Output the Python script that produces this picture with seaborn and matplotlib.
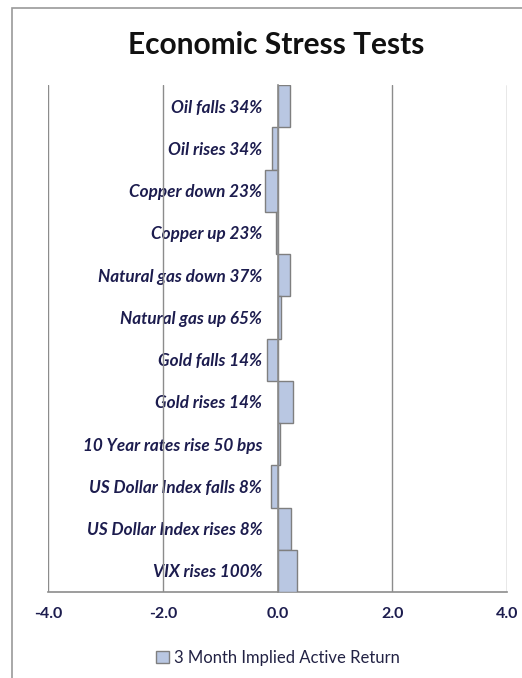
import matplotlib
matplotlib.use("Agg")
import matplotlib.pyplot as plt
import seaborn as sns
import pandas as pd
import numpy as np
from matplotlib.patches import Patch, Rectangle

categories = ["Oil falls 34%", "Oil rises 34%", "Copper down 23%", "Copper up 23%",
              "Natural gas down 37%", "Natural gas up 65%", "Gold falls 14%", "Gold rises 14%",
              "10 Year rates rise 50 bps", "US Dollar Index falls 8%", "US Dollar Index rises 8%",
              "VIX rises 100%"]
values = [0.21, -0.09, -0.22, -0.02, 0.21, 0.065, -0.19, 0.27, 0.04, -0.11, 0.24, 0.34]
x_ticks = [-4.0, -2.0, 0.0, 2.0, 4.0]
series_name = "3 Month Implied Active Return"
title = "Economic Stress Tests"

df = pd.DataFrame({"cat": categories, "val": values})

sns.set_style("white")
plt.rcParams['font.family'] = ['Lato', 'DejaVu Sans']

fig = plt.figure(figsize=(5.22, 6.78), dpi=100)
ax = fig.add_axes([48/522, 1-592/678, (507-48)/522, (592-85)/678])

bar_color = "#b9c7e2"
edge = "#7f7f7f"
navy = "#1c1c4e"
grid_c = "#8c8c8c"

sns.barplot(data=df, x="val", y="cat", orient="h", color=bar_color, width=1.0,
            edgecolor=edge, linewidth=1.0, saturation=1, ax=ax, zorder=3)

ax.set_xlim(-4, 4)
ax.set_ylim(len(categories)-0.5, -0.5)
ax.set_xticks(x_ticks)
ax.set_xticklabels([f"{t:.1f}" for t in x_ticks], fontsize=11.5, fontweight='bold', color=navy)
ax.set_xlabel("")
ax.set_ylabel("")

# vertical gridlines
for t in x_ticks:
    if t != 0:
        ax.axvline(t, color=grid_c, lw=1.0, zorder=1)

for s in ["top", "right"]:
    ax.spines[s].set_visible(False)
ax.spines["left"].set_position(("data", 0))
ax.spines["left"].set_color(grid_c)
ax.spines["left"].set_linewidth(1.2)
ax.spines["left"].set_zorder(4)
ax.spines["bottom"].set_color(grid_c)
ax.spines["bottom"].set_linewidth(1.2)

ax.tick_params(axis='x', which='major', direction='out', length=5, width=1.0, color=grid_c, pad=6)
ax.tick_params(axis='y', which='major', length=0, pad=11)
ax.set_yticks(np.arange(-0.5, len(categories), 1.0), minor=True)
ax.tick_params(axis='y', which='minor', direction='out', length=5, width=1.0, color=grid_c)
for lbl in ax.get_yticklabels():
    lbl.set_fontsize(12.3)
    lbl.set_fontweight('bold')
    lbl.set_fontstyle('italic')
    lbl.set_color(navy)

fig.text(276/522, 1-45/678, title, ha='center', va='center', fontsize=21.5,
         fontweight='bold', color='#111111')

handle = Patch(facecolor=bar_color, edgecolor=edge, linewidth=1.0)
fig.legend([handle], [series_name], loc='center', bbox_to_anchor=(278/522, 1-658/678),
           frameon=False, fontsize=12, handlelength=0.75, handleheight=0.75, handletextpad=0.3,
           labelcolor='#222244')

# chart area border
fig.add_artist(Rectangle((12/522, -0.05), 1.2, (1-8/678)+0.05, transform=fig.transFigure,
                         fill=False, edgecolor='#9a9a9a', lw=1.2))

fig.savefig("out.png", dpi=100)
